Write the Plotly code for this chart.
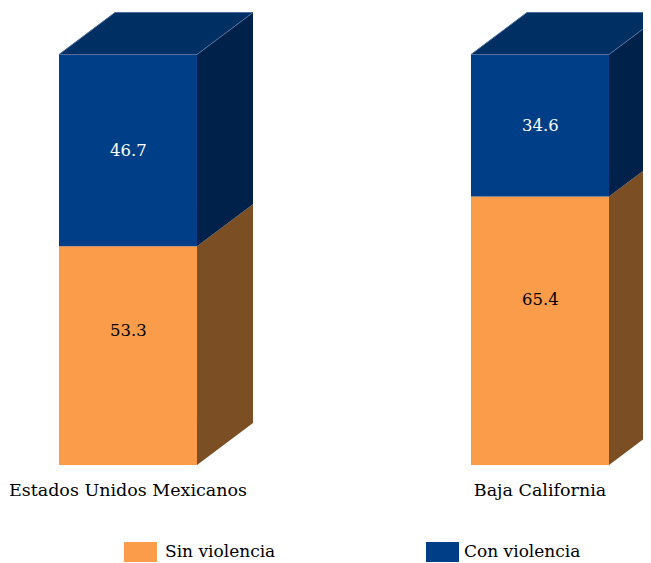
import plotly.graph_objects as go

categories = ["Estados Unidos Mexicanos", "Baja California"]
series_names = ["Sin violencia", "Con violencia"]
sin_violencia = [53.3, 65.4]
con_violencia = [46.7, 34.6]

front_colors = ["#FB9C4A", "#003F87"]
side_colors = ["#7B4E24", "#002149"]
top_color = "#002F64"
label_colors = ["#000000", "#FFFFFF"]

FONT = "DejaVu Serif"
OFF = 8  # page body margin
W, H = 651 - OFF, 563 - OFF
plot_h = 465 - OFF
px_per_unit = 4.105
bar_w = 0.335
dx = 0.1359   # depth offset in x units
dy = 10.23    # depth offset in y units

xs = list(range(len(categories)))
fig = go.Figure()

series = [sin_violencia, con_violencia]
bases = [[0.0] * len(xs), list(sin_violencia)]

# front faces
for s, name in enumerate(series_names):
    fig.add_trace(go.Bar(
        x=xs, y=series[s], base=bases[s], width=bar_w, name=name,
        marker=dict(color=front_colors[s], line=dict(width=0)),
        showlegend=False, hoverinfo="skip",
    ))

# side faces
for s in range(len(series)):
    for i, x in enumerate(xs):
        y0 = bases[s][i]
        y1 = y0 + series[s][i]
        xr = x + bar_w / 2
        fig.add_trace(go.Scatter(
            x=[xr, xr, xr + dx, xr + dx, xr],
            y=[y0, y1, y1 + dy, y0 + dy, y0],
            fill="toself", fillcolor=side_colors[s], mode="lines",
            line=dict(width=0, color=side_colors[s]),
            showlegend=False, hoverinfo="skip",
        ))

# top faces
for i, x in enumerate(xs):
    top = sin_violencia[i] + con_violencia[i]
    xl = x - bar_w / 2
    xr = x + bar_w / 2
    fig.add_trace(go.Scatter(
        x=[xl, xr, xr + dx, xl + dx, xl],
        y=[top, top, top + dy, top + dy, top],
        fill="toself", fillcolor=top_color, mode="lines",
        line=dict(width=1, color="#4F6E9C"),
        showlegend=False, hoverinfo="skip",
    ))

# value labels
for i, x in enumerate(xs):
    fig.add_annotation(x=x, y=sin_violencia[i] * 0.615, text=f"{sin_violencia[i]:.1f}",
                       showarrow=False, font=dict(family=FONT, size=16.5, color=label_colors[0]))
    fig.add_annotation(x=x, y=sin_violencia[i] + con_violencia[i] / 2, text=f"{con_violencia[i]:.1f}",
                       showarrow=False, font=dict(family=FONT, size=16.5, color=label_colors[1]))

# legend (manual)
def py(p):
    return (plot_h - (p - OFF)) / plot_h

def pxp(p):
    return (p - OFF) / W

legend_x = [124, 426]
legend_tx = [163, 462]
for s, name in enumerate(series_names):
    fig.add_shape(type="rect", xref="paper", yref="paper",
                  x0=pxp(legend_x[s]), x1=pxp(legend_x[s] + 33),
                  y0=py(562), y1=py(542),
                  fillcolor=front_colors[s], line=dict(width=0))
    fig.add_annotation(xref="paper", yref="paper", x=pxp(legend_tx[s]), y=py(551),
                       text=name, showarrow=False, xanchor="left", yanchor="middle",
                       font=dict(family=FONT, size=17, color="#000000"))

cx0 = 128 - OFF
fig.update_layout(
    width=W, height=H,
    margin=dict(l=0, r=0, t=0, b=H - plot_h),
    paper_bgcolor="white", plot_bgcolor="white",
    barmode="overlay",
    font=dict(family=FONT),
    xaxis=dict(range=[-cx0 / 412, (W - cx0) / 412], tickvals=xs, ticktext=categories,
               showgrid=False, zeroline=False, showline=False,
               ticks="outside", ticklen=9, tickcolor="rgba(0,0,0,0)",
               ticklabeloverflow="allow",
               tickfont=dict(family=FONT, size=17.5, color="#000000")),
    yaxis=dict(range=[0, plot_h / px_per_unit], visible=False, showgrid=False, zeroline=False),
    showlegend=False,
)

fig.write_html("out.html")
